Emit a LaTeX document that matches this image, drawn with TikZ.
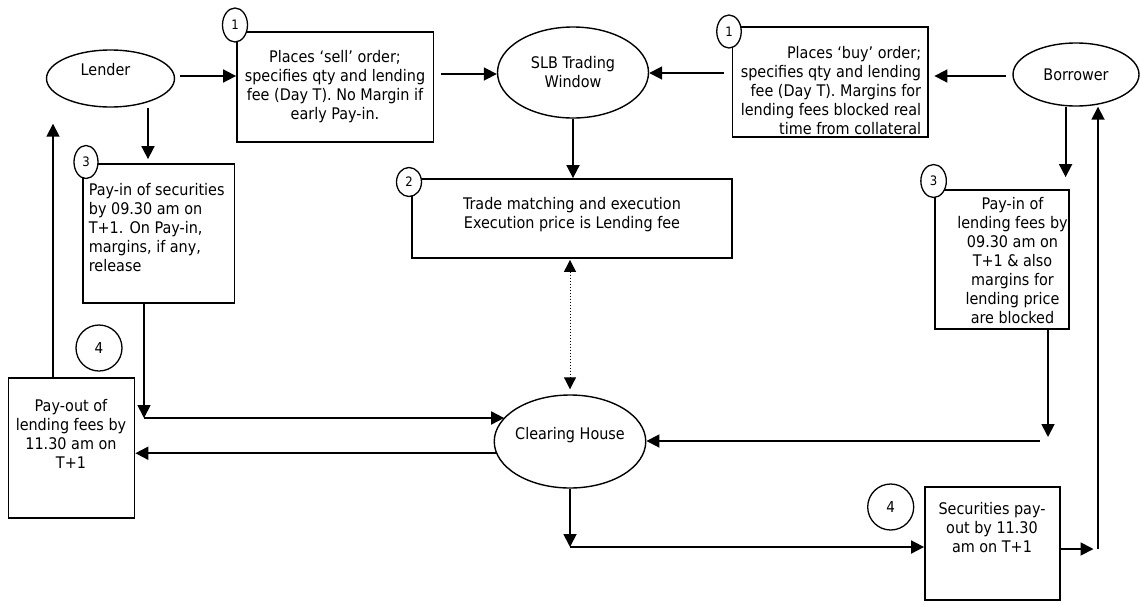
\documentclass[tikz,border=0pt]{standalone}
\usepackage{fontspec}
\setmainfont{DejaVu Sans Condensed}
\usetikzlibrary{shapes.geometric,arrows.meta}

\begin{document}
\begin{tikzpicture}[x=1pt,y=-1pt,line width=1.8pt,
	flowbox/.style={draw,rectangle,inner sep=0pt},
	oval/.style={draw,ellipse,inner sep=0pt,line width=1.4pt,font=\fontsize{16}{19}\selectfont,align=center},
	flowtext/.style={inner sep=0pt,font=\fontsize{16}{19}\selectfont},
	numnode/.style={draw,ellipse,fill=white,inner sep=0pt,line width=1.3pt,font=\fontsize{13}{13}\selectfont},
	bignum/.style={draw,circle,fill=white,inner sep=0pt,line width=1.3pt,minimum size=46pt,font=\fontsize{15}{15}\selectfont},
	arr/.style={-{Triangle[length=13pt,width=13pt]}},
	biarr/.style={{Triangle[length=12pt,width=12pt]}-{Triangle[length=12pt,width=12pt]}}]
	\useasboundingbox (0,0) rectangle (1141,603);
	\node[oval,minimum width=128pt,minimum height=57pt,label={[flowtext,xshift=-5pt,yshift=8.5pt]center:Lender}] (lender) at (110.5,78.5) {};
	\node[oval,minimum width=151pt,minimum height=91pt] (slb) at (573,72.5) {SLB Trading\\Window};
	\node[oval,minimum width=126pt,minimum height=63pt] (borrower) at (1076,74.5) {Borrower};
	\node[oval,minimum width=151.5pt,minimum height=93pt,label={[flowtext,yshift=6.5pt]center:Clearing House}] (ch) at (570,441.5) {};
	\node[flowbox,minimum width=196.5pt,minimum height=110pt] (sell) at (335.25,87) {};
	\node[flowtext,align=center] (selltxt) at (335,86.5) {Places ‘sell’ order;\\specifies qty and lending\\fee (Day T). No Margin if\\early Pay-in.};
	\node[flowbox,minimum width=195.5pt,minimum height=110pt] (buy) at (830.25,82) {};
	\node[flowtext,align=right,anchor=east] (buytxt) at (922,90.5) {Places ‘buy’ order;\\specifies qty and lending\\fee (Day T). Margins for\\lending fees blocked real\\time from collateral};
	\node[flowbox,minimum width=320pt,minimum height=79pt] (trade) at (572,218.5) {};
	\node[flowtext,align=center] (tradetxt) at (572,214.5) {Trade matching and execution\\Execution price is Lending fee};
	\node[flowbox,minimum width=151.5pt,minimum height=139pt] (lpay) at (158.75,233.5) {};
	\node[flowtext,align=left,anchor=west] (lpaytxt) at (88,228) {Pay-in of securities\\by 09.30 am on\\T+1. On Pay-in,\\margins, if any,\\release};
	\node[flowbox,minimum width=134.3pt,minimum height=139pt] (bpay) at (1001.85,259.5) {};
	\node[flowtext,align=center] (bpaytxt) at (1012.5,261) {Pay-in of\\lending fees by\\09.30 am on\\T+1 \& also\\margins for\\lending price\\are blocked};
	\node[flowbox,minimum width=126pt,minimum height=140pt] (payout) at (71.45,448) {};
	\node[flowtext,align=center] (payouttxt) at (71,433.5) {Pay-out of\\lending fees by\\11.30 am on\\T+1};
	\node[flowbox,minimum width=135pt,minimum height=113pt] (secpay) at (992.5,543.5) {};
	\node[flowtext,align=center] (secpaytxt) at (992,528) {Securities pay-\\out by 11.30\\am on T+1};
	\node[numnode,minimum width=25pt,minimum height=34pt] (n1a) at (235,25) {1};
	\node[numnode,minimum width=24.5pt,minimum height=33pt] (n1b) at (729,31.5) {1};
	\node[numnode,minimum width=25pt,minimum height=29pt] (n2) at (409,182) {2};
	\node[numnode,minimum width=24pt,minimum height=33pt] (n3a) at (86,162) {3};
	\node[numnode,minimum width=25.5pt,minimum height=33pt] (n3b) at (933.6,181) {3};
	\node[bignum] (n4a) at (99,348) {4};
	\node[bignum] (n4b) at (890.7,507) {4};
	\coordinate (ldrop) at ([xshift=37.5pt]lender.south);
	\coordinate (bdrop) at ([xshift=-10.4pt]borrower.south);
	\coordinate (slbin) at ([yshift=-1.5pt]slb.west);
	\coordinate (slbout) at ([yshift=-0.5pt]slb.east);
	\coordinate (lcorner) at (144,418);
	\coordinate (rcorner) at (1048,441);
	\coordinate (bcorner) at (570,547);
	\coordinate (rise) at (1098,549);
	\draw[arr,shorten <=4.5pt] ([yshift=2.5pt]lender.east) -- ([yshift=2.5pt]lender.east -| sell.west);
	\draw[arr,shorten <=6.5pt] (slbin -| sell.east) -- (slbin);
	\draw[arr,shorten <=8pt] (slbout -| buy.west) -- (slbout);
	\draw[arr,shorten <=6pt,shorten >=5.5pt] ([yshift=-1.5pt]borrower.west) -- ([yshift=-1.5pt]borrower.west -| buy.east);
	\draw[arr,shorten >=4pt] (ldrop) -- (ldrop |- lpay.north);
	\draw[arr,shorten >=12pt] (bdrop) -- (bdrop |- bpay.north);
	\draw[arr] (slb.south) -- (slb.south |- trade.north);
	\draw[biarr,dotted,line width=1pt,shorten <=1pt,shorten >=5pt] (ch.north |- trade.south) -- (ch.north);
	\draw[arr] ([xshift=-14.75pt]lpay.south) -- (lcorner);
	\draw[arr] (lcorner) -- (lcorner -| ch.160);
	\draw[arr] (ch.189) -- (ch.189 -| payout.east);
	\draw[arr,shorten >=4pt] (rcorner |- bpay.south) -- (rcorner);
	\draw[arr,shorten <=8pt] (rcorner) -- (rcorner -| ch.east);
	\draw[arr] (ch.south) -- (bcorner);
	\draw[arr] (bcorner) -- (bcorner -| secpay.west);
	\draw[arr,shorten >=4.5pt] (secpay.east |- rise) -- (rise);
	\draw[arr] (rise) -- (rise |- borrower.south);
	\draw[arr,shorten >=16pt] ([xshift=-18.45pt]payout.north) -- ([xshift=-57.5pt]lender.south);
\end{tikzpicture}
\end{document}
